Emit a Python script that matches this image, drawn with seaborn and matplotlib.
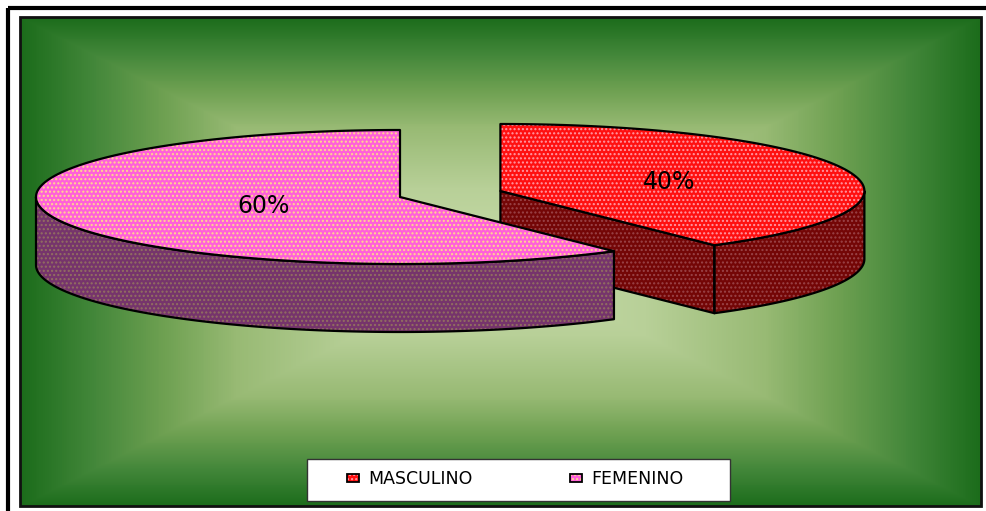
import numpy as np
import matplotlib
matplotlib.use("Agg")
import matplotlib.pyplot as plt
from matplotlib.patches import Polygon, Rectangle
from matplotlib.colors import LinearSegmentedColormap
import seaborn as sns

# ---- data -------------------------------------------------------------
categories = ["MASCULINO", "FEMENINO"]
shares = [40, 60]
explode = [0.29, 0.0]

# ---- styling ----------------------------------------------------------
top_colors = ["#ff1010", "#ff60da"]
side_colors = ["#740606", "#76346c"]
top_hatch = ["#ff9aa6", "#ffd98c"]
side_hatch = ["#9a4448", "#927060"]

sns.set_theme(style="white")
plt.rcParams["font.family"] = ["DejaVu Sans"]
plt.rcParams["hatch.linewidth"] = 1.0

W, H = 986, 511
fig = plt.figure(figsize=(W / 100, H / 100), dpi=100)
ax = fig.add_axes([0, 0, 1, 1])
ax.set_xlim(0, W)
ax.set_ylim(H, 0)
ax.axis("off")

# outer frame
ax.add_patch(Rectangle((7.5, 8.5), W, H, fill=False, ec="black", lw=3, zorder=1))

# plot panel with a rectangular "from centre" gradient
px0, py0, px1, py1 = 19.5, 17.5, 980.5, 506.5
yy, xx = np.mgrid[py0:py1:1.0, px0:px1:1.0]
gcx, gcy = (px0 + px1) / 2, (py0 + py1) / 2
t = np.maximum(np.abs(xx - gcx) / ((px1 - px0) / 2),
               np.abs(yy - gcy) / ((py1 - py0) / 2))
panel_cmap = LinearSegmentedColormap.from_list(
    "panel",
    [(0.0, "#c8ddaa"), (0.3, "#b8d098"), (0.55, "#98ba74"),
     (0.7, "#6fa152"), (0.85, "#43873a"), (1.0, "#1b6c1b")])
ax.imshow(t, cmap=panel_cmap, vmin=0, vmax=1, extent=(px0, px1, py1, py0),
          origin="upper", interpolation="bilinear", aspect="auto", zorder=2)
ax.add_patch(Rectangle((px0, py0), px1 - px0, py1 - py0, fill=False,
                       ec="#111111", lw=2, zorder=3))

# ---- 3-D pie ----------------------------------------------------------
cx0, cy0 = 400.0, 197.0
rx, ry, depth = 364.0, 67.0, 68.0


def rim(c, th, dz=0.0):
    return np.column_stack([c[0] + rx * np.cos(th), c[1] - ry * np.sin(th) + dz])


def face(verts, fc, hc, z):
    ax.add_patch(Polygon(verts, closed=True, fc=fc, ec="none", lw=0, zorder=z))
    ax.add_patch(Polygon(verts, closed=True, fill=False, ec=hc, lw=0,
                         hatch="....", zorder=z + 0.1))
    ax.add_patch(Polygon(verts, closed=True, fill=False, ec="black", lw=1.6,
                         joinstyle="round", zorder=z + 0.2))


total = float(sum(shares))
slices = []
a = 90.0
for i, v in enumerate(shares):
    sweep = 360.0 * v / total
    lo, hi = a - sweep, a
    a = lo
    mid = np.deg2rad((lo + hi) / 2)
    c = (cx0 + explode[i] * rx * np.cos(mid), cy0 - explode[i] * ry * np.sin(mid))
    slices.append(dict(i=i, lo=lo, hi=hi, mid=mid, c=c))

# back slices first
for s in sorted(slices, key=lambda s: -np.sin(s["mid"])):
    i, lo, hi, c = s["i"], s["lo"], s["hi"], s["c"]
    z = 10 + 10 * (-np.sin(s["mid"]) + 1)
    ctop = np.array(c)
    cbot = ctop + [0, depth]
    # radial cut faces
    for ang, is_start in ((lo, True), (hi, False)):
        th = np.deg2rad(ang)
        visible = np.cos(th) > 1e-6 if is_start else np.cos(th) < -1e-6
        if visible:
            p_top = rim(c, np.array([th]))[0]
            verts = np.array([ctop, p_top, p_top + [0, depth], cbot])
            face(verts, side_colors[i], side_hatch[i], z)
    # front part of the curved wall
    for k in (-1, 0, 1):
        f_lo, f_hi = max(lo, -180 + 360 * k), min(hi, 360 * k)
        if f_hi > f_lo:
            th = np.deg2rad(np.linspace(f_lo, f_hi, 120))
            verts = np.vstack([rim(c, th), rim(c, th[::-1], depth)])
            face(verts, side_colors[i], side_hatch[i], z)
    # top
    th = np.deg2rad(np.linspace(lo, hi, 240))
    verts = np.vstack([ctop, rim(c, th)])
    face(verts, top_colors[i], top_hatch[i], z + 1)
    # value label
    lx = c[0] + 0.44 * rx * np.cos(s["mid"]) + 16
    ly = c[1] - 0.44 * ry * np.sin(s["mid"])
    ax.text(lx, ly, f"{shares[i]:.0f}%", ha="center", va="center",
            fontsize=17, color="black", zorder=40)

# ---- legend -----------------------------------------------------------
ax.add_patch(Rectangle((306.5, 459.5), 423, 42, fc="white", ec="#333333",
                       lw=1, zorder=50))
entry_x = [347, 570]
for i, name in enumerate(categories):
    x = entry_x[i]
    sq = np.array([[x, 474], [x + 12, 474], [x + 12, 482.5], [x, 482.5]])
    ax.add_patch(Polygon(sq, closed=True, fc=top_colors[i], ec="none", zorder=51))
    ax.add_patch(Polygon(sq, closed=True, fill=False, ec=top_hatch[i], lw=0,
                         hatch="....", zorder=51.1))
    ax.add_patch(Polygon(sq, closed=True, fill=False, ec="black", lw=1.3,
                         zorder=51.2))
    ax.text(x + 21, 478.5, name, ha="left", va="center", fontsize=12.5,
            color="black", zorder=52)

fig.savefig("out.png", dpi=100, facecolor="white")
